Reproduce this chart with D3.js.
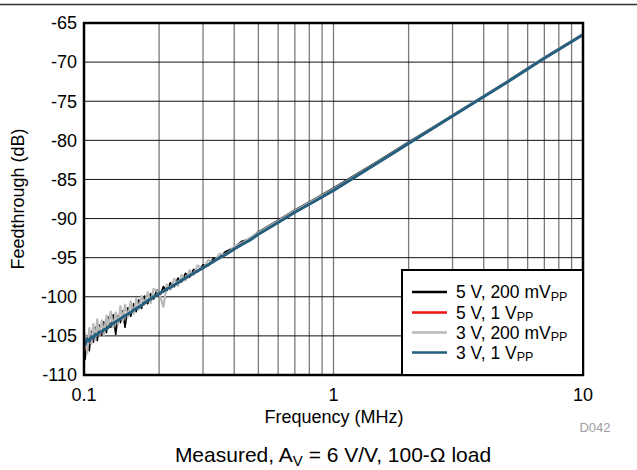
<!DOCTYPE html>
<html><head><meta charset="utf-8">
<script src="https://cdn.jsdelivr.net/npm/d3@7"></script>
<style>body{margin:0;background:#fff}svg{display:block}text{font-family:"Liberation Sans",Arial,sans-serif}</style>
</head><body>
<svg id="c" width="637" height="470"></svg>
<script>
const freq = [0.100,0.101,0.103,0.105,0.107,0.109,0.111,0.113,0.115,0.118,0.120,0.123,0.125,0.128,0.131,0.134,0.137,0.140,0.143,0.146,0.150,0.154,0.158,0.162,0.166,0.170,0.175,0.180,0.185,0.190,0.196,0.202,0.208,0.215,0.222,0.230,0.238,0.246,0.255,0.265,0.275,0.285,0.300,0.315,0.330,0.350,0.370,0.400,0.430,0.460,0.500,0.600,0.700,0.850,1.0,1.5,2,3,5,7,10];
const s5v200 = [-104.6,-108.0,-105.2,-106.9,-104.4,-105.8,-103.9,-105.6,-103.6,-104.9,-103.2,-104.6,-102.6,-103.9,-102.3,-104.8,-102.4,-103.3,-101.8,-103.9,-101.4,-102.5,-100.9,-101.9,-100.4,-101.5,-99.9,-100.9,-99.6,-100.3,-99.1,-99.8,-98.7,-99.2,-98.2,-98.7,-97.6,-98.1,-97.0,-97.5,-96.5,-96.8,-95.9,-96.0,-95.1,-94.9,-94.2,-93.7,-92.9,-92.6,-91.7,-90.2,-88.9,-87.4,-86.1,-82.7,-80.2,-76.8,-72.4,-69.4,-66.4];
const s5v1 = [-107.0,-106.6,-106.0,-105.9,-105.5,-105.4,-105.1,-105.0,-104.7,-104.6,-104.3,-104.1,-103.9,-103.7,-103.4,-103.2,-103.0,-102.8,-102.6,-102.4,-102.2,-102.0,-101.7,-101.5,-101.3,-101.1,-100.8,-100.5,-100.3,-100.0,-99.8,-99.5,-99.3,-99.0,-98.8,-98.5,-98.2,-97.9,-97.6,-97.3,-97.0,-96.7,-96.3,-95.9,-95.5,-95.0,-94.6,-93.9,-93.3,-92.8,-92.0,-90.5,-89.2,-87.7,-86.4,-82.9,-80.4,-76.9,-72.5,-69.5,-66.5];
const s3v200 = [-106.5,-104.8,-107.2,-104.0,-106.0,-103.5,-105.5,-102.9,-104.8,-103.0,-104.9,-102.4,-103.8,-101.9,-103.9,-102.0,-103.5,-101.2,-103.0,-101.0,-102.6,-100.6,-102.2,-100.2,-101.6,-99.9,-101.0,-99.4,-100.8,-99.0,-99.2,-99.9,-101.3,-98.4,-99.1,-97.7,-98.6,-97.2,-97.9,-96.6,-97.2,-96.0,-96.4,-95.3,-95.6,-94.5,-94.6,-93.6,-93.1,-92.5,-91.8,-90.3,-89.0,-87.5,-86.2,-82.8,-80.3,-76.8,-72.4,-69.4,-66.4];
const s3v1 = [-105.9,-106.1,-105.4,-105.7,-105.1,-105.3,-104.8,-104.9,-104.5,-104.5,-104.2,-104.1,-103.9,-103.6,-103.4,-103.2,-103.0,-102.8,-102.6,-102.4,-102.2,-102.0,-101.7,-101.5,-101.3,-101.1,-100.8,-100.5,-100.3,-100.0,-99.8,-99.5,-99.3,-99.0,-98.8,-98.5,-98.2,-97.9,-97.6,-97.3,-97.0,-96.7,-96.3,-95.9,-95.5,-95.0,-94.6,-93.9,-93.3,-92.8,-92.0,-90.5,-89.2,-87.7,-86.4,-82.9,-80.4,-76.9,-72.5,-69.5,-66.5];

const xTicks = [0.1, 1, 10];
const xTickLabels = ["0.1", "1", "10"];
const yTicks = [-110,-105,-100,-95,-90,-85,-80,-75,-70,-65];
const seriesNames = ["5 V, 200 mV", "5 V, 1 V", "3 V, 200 mV", "3 V, 1 V"];
const seriesData = [s5v200, s5v1, s3v200, s3v1];
const colors = ["#000000", "#ee1111", "#b9b9b9", "#255f7e"];
const widths = [1.6, 2, 2.2, 3];

const svg = d3.select("#c");
const L = 84, R = 583, T = 23, B = 375;
const x = d3.scaleLog().domain([0.1, 10]).range([L, R]);
const y = d3.scaleLinear().domain([-110, -65]).range([B, T]);

svg.append("line").attr("x1",0).attr("x2",637).attr("y1",4.5).attr("y2",4.5).attr("stroke","#333").attr("stroke-width",1.5);

const vgrid = [];
[0.1, 1].forEach(d => { for (let k = 2; k <= 9; k++) vgrid.push(d * k); });
vgrid.push(1);
svg.append("g").selectAll("line").data(vgrid).join("line")
  .attr("x1", d => x(d)).attr("x2", d => x(d)).attr("y1", T).attr("y2", B)
  .attr("stroke", "#7a7a7a").attr("stroke-width", 1.3);
svg.append("g").selectAll("line").data(yTicks).join("line")
  .attr("x1", L).attr("x2", R).attr("y1", d => y(d)).attr("y2", d => y(d))
  .attr("stroke", "#111").attr("stroke-width", 1);

const line = d3.line().x((d, i) => x(freq[i])).y(d => y(d));
seriesData.forEach((s, i) => {
  svg.append("path").datum(s).attr("d", line).attr("fill", "none")
    .attr("stroke", colors[i]).attr("stroke-width", widths[i]).attr("stroke-linejoin", "round");
});

svg.append("rect").attr("x", L).attr("y", T).attr("width", R - L).attr("height", B - T)
  .attr("fill", "none").attr("stroke", "#000").attr("stroke-width", 2.5);

svg.append("g").selectAll("text").data(yTicks).join("text")
  .attr("x", 77).attr("y", d => y(d)).attr("dy", "0.35em").attr("text-anchor", "end")
  .attr("font-size", 18).attr("fill", "#000").text(d => d);
svg.append("g").selectAll("text").data(xTicks).join("text")
  .attr("x", d => x(d)).attr("y", 401).attr("text-anchor", "middle")
  .attr("font-size", 18).attr("fill", "#000").text((d, i) => xTickLabels[i]);

svg.append("text").attr("x", 334).attr("y", 423).attr("text-anchor", "middle").attr("font-size", 18).text("Frequency (MHz)");
svg.append("text").attr("transform", "translate(24,199) rotate(-90)").attr("text-anchor", "middle").attr("font-size", 18).text("Feedthrough (dB)");

svg.append("text").attr("x", 595).attr("y", 432).attr("text-anchor", "middle").attr("font-size", 13).attr("fill", "#a0a0a0").text("D042");

const cap = svg.append("text").attr("x", 333).attr("y", 462).attr("text-anchor", "middle").attr("font-size", 21).attr("fill", "#000");
cap.append("tspan").text("Measured, A");
cap.append("tspan").attr("font-size", 15).attr("dy", 4).text("V");
cap.append("tspan").attr("dy", -4).text(" = 6 V/V, 100-\u03A9 load");

const lg = svg.append("g");
lg.append("rect").attr("x", 402).attr("y", 270).attr("width", R - 402).attr("height", B - 270)
  .attr("fill", "#fff").attr("stroke", "#000").attr("stroke-width", 2);
const ly = [292, 312.5, 332.5, 352.5];
seriesNames.forEach((n, i) => {
  lg.append("line").attr("x1", 412).attr("x2", 447).attr("y1", ly[i]).attr("y2", ly[i])
    .attr("stroke", colors[i]).attr("stroke-width", 2.5);
  const t = lg.append("text").attr("x", 456).attr("y", ly[i] + 6).attr("font-size", 17.5).attr("fill", "#000");
  t.append("tspan").text(n);
  t.append("tspan").attr("font-size", 12.5).attr("dy", 2.5).text("PP");
});
</script>
</body></html>
